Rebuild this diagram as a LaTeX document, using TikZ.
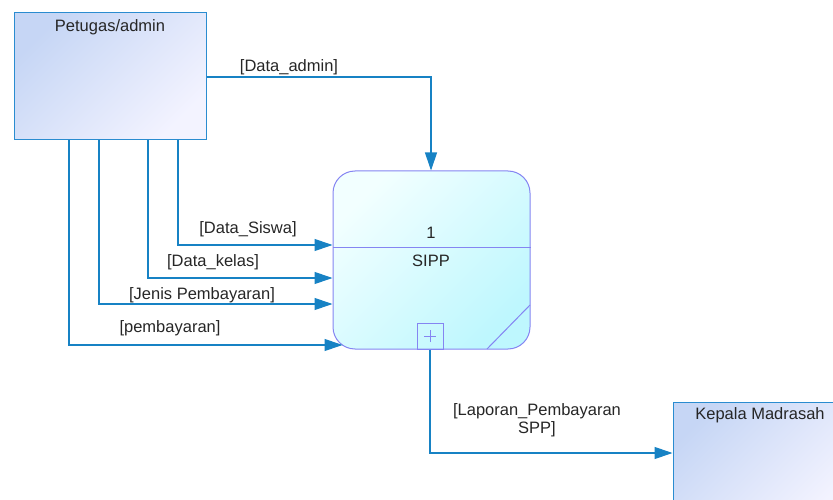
\documentclass[tikz,border=0pt]{standalone}
\usepackage{fontspec}
\setmainfont{Liberation Sans}
\usetikzlibrary{arrows.meta,calc}

\definecolor{flowblue}{HTML}{1782C4}
\definecolor{extedge}{HTML}{2A8CD0}
\definecolor{extlt}{HTML}{C6D6F5}
\definecolor{extrb}{HTML}{F3F3FF}
\definecolor{procedge}{HTML}{8585F2}
\definecolor{proclt}{HTML}{F2FFFF}
\definecolor{procrb}{HTML}{BEF7FE}

\tikzset{
  txt/.style={font=\fontsize{16.5}{18.5}\selectfont, inner sep=0pt, text=black!85},
  extbox/.style={draw=extedge, line width=1pt, left color=extlt, right color=extrb,
    shading angle=45, minimum width=#1, inner sep=0pt},
  procbox/.style={draw=procedge, line width=1pt, rounded corners=22pt,
    left color=proclt, right color=procrb, shading angle=45, inner sep=0pt},
  flow/.style={draw=flowblue, line width=1.1pt,
    -{Triangle[length=18pt,width=12pt]}},
  procline/.style={draw=procedge, line width=1pt},
}

\begin{document}
\begin{tikzpicture}[x=1pt,y=-1pt]
\useasboundingbox (0,0) rectangle (833,500);

% external entities
\node[extbox=192pt, minimum height=127pt] (pet) at (110,76.5) {};
\node[txt, anchor=center] (petlbl) at (110,27) {Petugas/admin};

\node[extbox=174pt, minimum height=120pt] (kep) at (760,462) {};
\node[txt, anchor=center] (keplbl) at (760,415) {Kepala Madrasah};

% process
\node[procbox, minimum width=197pt, minimum height=178pt] (proc) at (431.5,260) {};
\draw[procline] (proc.west |- 0,247) -- (proc.east |- 0,247);
\node[txt] (pnum) at (431,233) {1};
\node[txt] (pname) at (431,261) {SIPP};
\node[procline, draw, fill=none, minimum width=26pt, minimum height=26pt, inner sep=0pt]
  (expand) at (430,336) {};
\draw[procline] ([xshift=-6pt]expand.center) -- ([xshift=6pt]expand.center)
                ([yshift=-6pt]expand.center) -- ([yshift=6pt]expand.center);
\draw[procline] (487,349) -- (530,305);

% data flows into the process
\draw[flow] (pet.east |- 0,77) -| (proc.north -| 431,0);
\node[txt] (ladmin) at (289,67) {[Data\_admin]};

\draw[flow] (pet.south -| 178,0) |- (proc.west |- 0,245);
\node[txt] (lsiswa) at (248,229) {[Data\_Siswa]};

\draw[flow] (pet.south -| 148,0) |- (proc.west |- 0,278);
\node[txt] (lkelas) at (213,262) {[Data\_kelas]};

\draw[flow] (pet.south -| 99,0) |- (proc.west |- 0,304);
\node[txt] (ljenis) at (202,295) {[Jenis Pembayaran]};

\coordinate (pin) at (342.5,345);
\draw[flow] (pet.south -| 69,0) |- (pin);
\node[txt] (lbayar) at (170,328) {[pembayaran]};

% report to the head
\draw[flow] (expand.south) |- (kep.west |- 0,453);
\node[txt, align=center] (llap) at (537,420) {[Laporan\_Pembayaran\\SPP]};
\end{tikzpicture}
\end{document}
